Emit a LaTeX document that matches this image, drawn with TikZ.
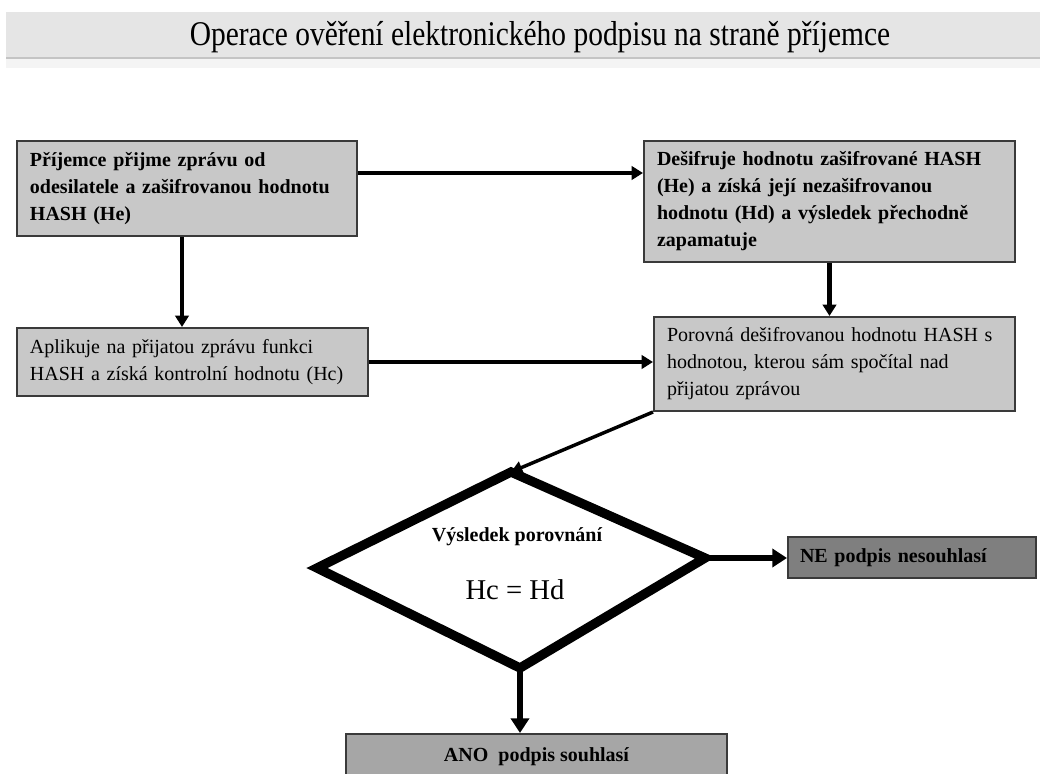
\documentclass[tikz,border=0pt]{standalone}
\usepackage{fontspec}
\setmainfont{Liberation Serif}
\newfontfamily\titlefont[FakeStretch=0.85]{Liberation Serif}
\usetikzlibrary{arrows.meta}
\definecolor{boxgray}{HTML}{C8C8C8}
\definecolor{boxborder}{HTML}{3A3A3A}
\definecolor{negray}{HTML}{7F7F7F}
\definecolor{anogray}{HTML}{A6A6A6}
\definecolor{bandgray}{HTML}{E5E5E5}
\definecolor{bandshadow}{HTML}{C4C4C4}
\definecolor{bandlight}{HTML}{F4F4F4}
\tikzset{
  box/.style={draw=boxborder, line width=1.5pt, fill=boxgray, inner xsep=9.75pt, inner ysep=0pt,
    text width=#1, align=left, font=\fontsize{15}{20.25}\selectfont},
  arr/.style={line width=3.4pt, -{Triangle[length=8.5pt,width=10pt]}},
  thinarr/.style={line width=2.6pt, -{Triangle[length=8.5pt,width=9.5pt]}},
  bigarr/.style={line width=3.8pt, -{Triangle[length=11pt,width=13.5pt]}},
}
\begin{document}
\begin{tikzpicture}[x=0.75pt,y=-0.75pt]
\useasboundingbox (0,0) rectangle (1040,774);
\clip (0,0) rectangle (1040,774);
\fill[white] (0,0) rectangle (1040,774);
% title band
\fill[bandgray] (6,12) rectangle (1040,57);
\fill[bandshadow] (6,57) rectangle (1040,59.5);
\fill[bandlight] (6,59.5) rectangle (1040,68);
\node[font=\titlefont\fontsize{26}{30}\selectfont] (title) at (540,37)
  {Operace ověření elektronického podpisu na straně příjemce};

% boxes
\node[box=235.5pt, minimum height=71.25pt, font=\bfseries\fontsize{15}{20.25}\selectfont] (b1) at (187,188.5)
  {Příjemce přijme zprávu od\\odesilatele a zašifrovanou hodnotu\\HASH (He)};
\node[box=243.75pt, minimum height=51pt] (b2) at (192.5,362)
  {Aplikuje na přijatou zprávu funkci\\HASH a získá kontrolní hodnotu (Hc)};
\node[box=258.75pt, minimum height=90.75pt, font=\bfseries\fontsize{15}{20.25}\selectfont] (b3) at (829.5,201.5)
  {Dešifruje hodnotu zašifrované HASH\\(He) a získá její nezašifrovanou\\hodnotu (Hd) a výsledek přechodně\\zapamatuje};
\node[box=251.25pt, minimum height=70.5pt] (b4) at (834.5,364)
  {Porovná dešifrovanou hodnotu HASH s\\hodnotou, kterou sám spočítal nad\\přijatou zprávou};
\node[box=168pt, fill=negray, inner xsep=9pt, minimum height=30.75pt, font=\bfseries\fontsize{15}{18}\selectfont] (ne) at (912,557.5)
  {NE podpis nesouhlasí};
\node[draw=boxborder, line width=1.5pt, fill=anogray, minimum width=285.75pt, minimum height=34.5pt,
  font=\bfseries\fontsize{15}{18}\selectfont] (ano) at (536.5,757) {ANO\ \ podpis souhlasí};

% decision diamond
\coordinate (dT) at (511,472);
\coordinate (dL) at (317,568);
\coordinate (dR) at (705,558);
\coordinate (dB) at (520,668);
\draw[line width=7pt, line join=miter, fill=white] (dT) -- (dR) -- (dB) -- (dL) -- cycle;
\node[font=\bfseries\fontsize{15}{18}\selectfont] (dq) at (517,537) {Výsledek porovnání};
\node[font=\fontsize{21.5}{24}\selectfont] (deq) at (515,590) {Hc = Hd};

% connectors
\draw[arr] ([yshift=11.625pt]b1.east) -- ([yshift=11.625pt]b1.east -| b3.west);
\draw[arr] ([xshift=-3.75pt]b1.south) -- ([xshift=-3.75pt]b1.south |- b2.north);
\draw[arr] (b3.south) -- (b3.south |- b4.north);
\draw[arr] (b2.east) -- (b2.east -| b4.west);
\draw[thinarr] (b4.south west) -- (dT);
\draw[bigarr] (dR) -- (dR -| ne.west);
\draw[bigarr] (dB) -- (dB |- ano.north);
\end{tikzpicture}
\end{document}
